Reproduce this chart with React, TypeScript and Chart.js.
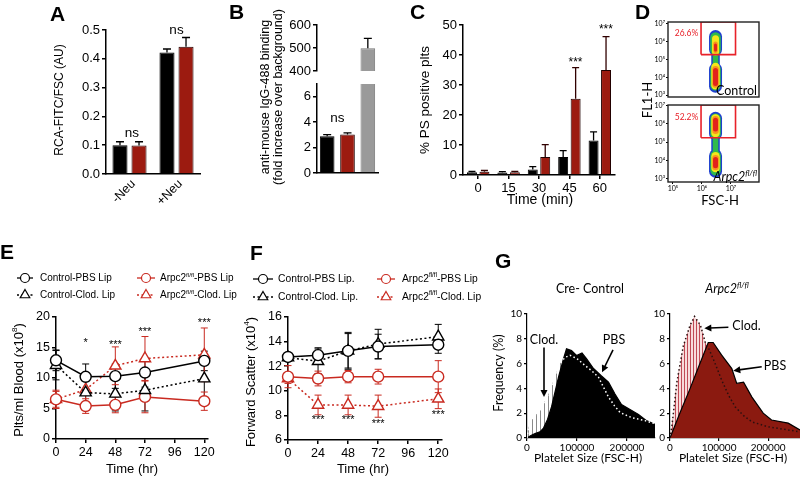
import React, { useEffect, useRef } from 'react';
import { Chart, registerables } from 'chart.js';

Chart.register(...registerables);

const W = 800;
const H = 477;
const ARIAL = "'Liberation Sans', Arial, Helvetica, sans-serif";
const CAL = "Lato, 'Open Sans', 'DejaVu Sans', sans-serif";
const BAR_RED = '#9c1b10';
const LINE_RED = '#c92a20';
const GRAY = '#9a9a9a';

// ---------------- Panel A ----------------
const aCategories = ['-Neu', '+Neu'];
const aControl = [0.1, 0.422];
const aControlErr = [0.012, 0.012];
const aArpc2 = [0.099, 0.442];
const aArpc2Err = [0.013, 0.032];
const aTicks = [0, 0.1, 0.2, 0.3, 0.4, 0.5];

// ---------------- Panel B ----------------
const bCategories = ['Control', 'Arpc2 fl/fl', 'Positive'];
const bValues = [2.9, 3.02, 499];
const bErr = [0.12, 0.13, 43];
const bLowTicks = [0, 2, 4, 6];
const bHighTicks = [400, 500, 600];

// ---------------- Panel C ----------------
const cCategories = ['0', '15', '30', '45', '60'];
const cControl = [0.9, 0.8, 1.8, 6.0, 11.5];
const cControlErr = [0.3, 0.3, 1.0, 2.1, 2.9];
const cArpc2 = [1.1, 0.9, 6.0, 25.4, 35.0];
const cArpc2Err = [0.4, 0.3, 4.1, 10.4, 11.1];
const cTicks = [0, 10, 20, 30, 40, 50];
const cStarCats = [3, 4];
const cStarY = [38.3, 49.4];

// ---------------- Panel D (log10 exponents) ----------------
const dYTicks = [3, 4, 5, 6, 7];
const dXTicks = [5, 6, 7];
const dBlobX = 6.47;
const dControlBlob: [string, number, number][] = [
  ['B', 3.5, 4.45], ['b', 4.45, 5.35], ['B', 5.55, 6.28],
  ['G', 3.55, 4.45], ['g', 4.6, 5.3], ['G', 5.52, 6.22],
  ['Y', 3.55, 4.58], ['y', 5.42, 6.15],
  ['O', 3.6, 4.45], ['o', 5.48, 5.88],
  ['R', 3.66, 4.38], ['r', 5.53, 5.8],
];
const dArpc2Blob: [string, number, number][] = [
  ['B', 3.4, 4.25], ['b', 4.4, 5.25], ['B', 5.46, 6.31],
  ['G', 3.46, 4.26], ['g', 4.55, 5.15], ['G', 5.46, 6.29],
  ['Y', 3.58, 4.22], ['Y', 5.5, 6.3],
  ['O', 3.64, 4.12], ['O', 5.62, 6.26],
  ['R', 3.7, 4.05], ['R', 5.72, 6.2],
];
const dGateX = [5.97, 7.16];
const dGateYControl = [5.27, 7.09];
const dGateYArpc2 = [5.24, 7.04];
const dGatePct = ['26.6%', '52.2%'];

// ---------------- Panel E ----------------
const timeHr = [0, 24, 48, 72, 120];
const timeTicks = [0, 24, 48, 72, 96, 120];
const eCtrlPbs = [12.9, 10.2, 10.3, 10.9, 12.8];
const eCtrlPbsErr = [1.7, 2.1, 2.0, 2.4, 1.6];
const eCtrlClod = [12.1, 7.6, 7.4, 8.0, 9.9];
const eCtrlClodErr = [2.4, 2.6, 2.8, 3.4, 3.8];
const eArpcPbs = [6.5, 5.4, 5.6, 6.9, 6.2];
const eArpcPbsErr = [1.3, 1.2, 1.3, 2.6, 1.5];
const eArpcClod = [6.5, 8.1, 12.0, 13.2, 13.8];
const eArpcClodErr = [1.5, 2.0, 3.1, 3.6, 4.4];
const eTicks = [0, 5, 10, 15, 20];
const eStarX = [24, 48, 72, 120];
const eStarY = [16.2, 15.9, 18.0, 19.5];
const eStarText = ['*', '***', '***', '***'];

// ---------------- Panel F ----------------
const fCtrlPbs = [12.75, 12.9, 13.25, 13.6, 13.75];
const fCtrlPbsErr = [0.3, 0.6, 1.4, 1.0, 0.7];
const fCtrlClod = [12.7, 12.4, 13.25, 13.8, 14.4];
const fCtrlClodErr = [0.3, 1.0, 1.5, 1.2, 1.0];
const fArpcPbs = [11.15, 11.0, 11.15, 11.15, 11.15];
const fArpcPbsErr = [0.9, 0.6, 0.5, 0.6, 1.3];
const fArpcClod = [11.0, 8.85, 8.85, 8.75, 9.35];
const fArpcClodErr = [0.4, 0.8, 0.8, 0.9, 0.8];
const fTicks = [6, 8, 10, 12, 14, 16];
const fStarX = [24, 48, 72, 120];
const fStarY = [7.85, 7.85, 7.5, 8.25];

// ---------------- Panel G ----------------
const gTicksY = [0, 2, 4, 6, 8, 10];
const gTicksX = [0, 100000, 200000];
const gCtrlPbsX = [0, 8000, 16000, 26000, 33000, 41000, 49000, 56000, 63000, 73000, 79000, 89000, 99000, 110000, 119000, 133000, 149000, 163000, 176000, 189000, 206000, 223000, 239000, 256000];
const gCtrlPbsY = [0, 0.2, 0.35, 0.5, 0.8, 1.5, 2.5, 3.7, 4.9, 6.4, 7.2, 7.05, 6.65, 6.85, 6.4, 5.6, 5.0, 4.5, 3.55, 2.7, 2.3, 1.9, 1.4, 1.1];
const gCtrlClodX = [0, 3000, 7000, 16000, 26000, 36000, 46000, 56000, 66000, 76000, 86000, 100000, 116000, 130000, 143000, 153000, 163000, 175000, 186000, 209000, 236000, 256000];
const gCtrlClodY = [0, 0.8, 1.4, 1.8, 2.2, 3.0, 3.8, 5.0, 6.0, 6.5, 6.67, 6.4, 5.85, 5.4, 4.9, 4.1, 3.3, 2.6, 2.06, 1.65, 1.4, 1.15];
const gArpcPbsX = [0, 20000, 40000, 60000, 78000, 88000, 105000, 126000, 136000, 150000, 167000, 190000, 207000, 241000, 265000];
const gArpcPbsY = [0, 2.0, 3.9, 5.9, 7.7, 7.7, 6.7, 5.6, 4.4, 4.5, 3.3, 2.0, 1.45, 1.2, 0.65];
const gArpcClodX = [0, 4000, 14000, 27000, 41000, 50000, 62000, 72000, 78000, 90000, 105000, 120000, 133000, 150000, 167000, 200000, 265000];
const gArpcClodY = [0, 1.0, 4.5, 7.4, 9.1, 9.8, 9.1, 7.7, 7.3, 6.2, 4.7, 3.4, 2.5, 1.8, 1.3, 0.9, 0.5];

// ---------------- helpers ----------------
const LEVELS: Record<string, { c: string; w: number; o: number }> = {
  B: { c: '#1d3fcf', w: 13, o: 10 },
  b: { c: '#1d3fcf', w: 8.5, o: 10 },
  G: { c: '#2fba4c', w: 10.5, o: 9 },
  g: { c: '#2fba4c', w: 5.5, o: 9 },
  Y: { c: '#f3e61b', w: 8.5, o: 8 },
  y: { c: '#f3e61b', w: 7, o: 8 },
  O: { c: '#f7931e', w: 6.5, o: 7 },
  o: { c: '#f7931e', w: 4.5, o: 7 },
  R: { c: '#e2231a', w: 5, o: 6 },
  r: { c: '#e2231a', w: 3, o: 6 },
};
const SUP: Record<number, string> = { 3: '³', 4: '⁴', 5: '⁵', 6: '⁶', 7: '⁷' };
const logLabel = (v: number) => '10' + (SUP[Math.round(Math.log10(v))] || '');
const pts = (xs: number[], ys: number[]) => xs.map((x, i) => ({ x, y: ys[i] }));

function rich(ctx: CanvasRenderingContext2D, text: string, x: number, y: number, o: any) {
  const size = o.size || 12;
  const fam = o.family || ARIAL;
  const parts: any[] = [];
  const re = /\^\{([^}]*)\}/g;
  let last = 0;
  let m: RegExpExecArray | null;
  while ((m = re.exec(text))) {
    if (m.index > last) parts.push({ t: text.slice(last, m.index), sup: false });
    parts.push({ t: m[1], sup: true });
    last = re.lastIndex;
  }
  if (last < text.length) parts.push({ t: text.slice(last), sup: false });
  const font = (sup: boolean) => `${o.style || 'normal'} ${o.weight || 'normal'} ${sup ? size * 0.62 : size}px ${fam}`;
  ctx.save();
  ctx.translate(x, y);
  if (o.rot) ctx.rotate(o.rot);
  let total = 0;
  for (const p of parts) {
    ctx.font = font(p.sup);
    p.w = ctx.measureText(p.t).width;
    total += p.w;
  }
  let cx = o.align === 'left' ? 0 : o.align === 'right' ? -total : -total / 2;
  ctx.textAlign = 'left';
  ctx.textBaseline = 'middle';
  ctx.fillStyle = o.color || '#000';
  for (const p of parts) {
    ctx.font = font(p.sup);
    ctx.fillText(p.t, cx, p.sup ? -size * 0.32 : 0);
    cx += p.w;
  }
  ctx.restore();
}

function drawErrors(chart: any, layer: string) {
  const ctx = chart.ctx;
  chart.data.datasets.forEach((ds: any, i: number) => {
    if (!ds.errors || (ds.errLayer || 'after') !== layer) return;
    const meta = chart.getDatasetMeta(i);
    const ys = chart.scales[meta.yAxisID];
    ctx.save();
    ctx.strokeStyle = ds.errColor || '#000';
    ctx.lineWidth = ds.errWidth || 1.3;
    meta.data.forEach((el: any, j: number) => {
      const e = ds.errors[j];
      const raw = ds.data[j];
      const v = typeof raw === 'number' ? raw : raw && raw.y;
      if (e == null || v == null) return;
      if (v < ys.min || v > ys.max) return;
      const x = el.x;
      const yTop = ys.getPixelForValue(v + e);
      const yMid = ys.getPixelForValue(v);
      const both = ds.errMode === 'both';
      const yBot = both ? ys.getPixelForValue(v - e) : yMid;
      const c = ds.errCap || 3;
      ctx.beginPath();
      ctx.moveTo(x, yBot);
      ctx.lineTo(x, yTop);
      ctx.moveTo(x - c, yTop);
      ctx.lineTo(x + c, yTop);
      if (both) {
        ctx.moveTo(x - c, yBot);
        ctx.lineTo(x + c, yBot);
      }
      ctx.stroke();
    });
    ctx.restore();
  });
}

function drawMarker(ctx: CanvasRenderingContext2D, style: string, x: number, y: number, r: number, color: string) {
  ctx.beginPath();
  if (style === 'triangle') {
    ctx.moveTo(x, y - r);
    ctx.lineTo(x + r * 0.866, y + r * 0.5);
    ctx.lineTo(x - r * 0.866, y + r * 0.5);
    ctx.closePath();
  } else {
    ctx.arc(x, y, r, 0, Math.PI * 2);
  }
  ctx.fillStyle = '#fff';
  ctx.fill();
  ctx.setLineDash([]);
  ctx.strokeStyle = color;
  ctx.lineWidth = 1.2;
  ctx.stroke();
}

function makeDeco(d: any) {
  return {
    id: 'deco',
    beforeDatasetsDraw(chart: any) {
      drawErrors(chart, 'before');
    },
    afterDatasetsDraw(chart: any) {
      drawErrors(chart, 'after');
    },
    afterDraw(chart: any) {
      const ctx = chart.ctx;
      const a = chart.chartArea;
      if (d.frame) {
        ctx.save();
        ctx.strokeStyle = '#222';
        ctx.lineWidth = 1.4;
        ctx.strokeRect(a.left, a.top, a.right - a.left, a.bottom - a.top);
        ctx.restore();
      }
      (d.arrows || []).forEach((ar: any) => {
        const xs = chart.scales.x;
        const ys = chart.scales.y;
        const x1 = xs.getPixelForValue(ar.x1);
        const y1 = ys.getPixelForValue(ar.y1);
        const x2 = xs.getPixelForValue(ar.x2);
        const y2 = ys.getPixelForValue(ar.y2);
        const ang = Math.atan2(y2 - y1, x2 - x1);
        const hl = 7;
        const hw = 3.5;
        ctx.save();
        ctx.strokeStyle = '#000';
        ctx.fillStyle = '#000';
        ctx.lineWidth = 1.6;
        ctx.beginPath();
        ctx.moveTo(x1, y1);
        ctx.lineTo(x2 - Math.cos(ang) * hl * 0.8, y2 - Math.sin(ang) * hl * 0.8);
        ctx.stroke();
        ctx.beginPath();
        ctx.moveTo(x2, y2);
        ctx.lineTo(x2 - Math.cos(ang) * hl - Math.sin(ang) * hw, y2 - Math.sin(ang) * hl + Math.cos(ang) * hw);
        ctx.lineTo(x2 - Math.cos(ang) * hl + Math.sin(ang) * hw, y2 - Math.sin(ang) * hl - Math.cos(ang) * hw);
        ctx.closePath();
        ctx.fill();
        ctx.restore();
      });
      (d.texts || []).forEach((t: any) => {
        let x = t.x;
        let y = t.y;
        if (t.data || t.xData) x = chart.scales.x.getPixelForValue(t.x);
        if (t.data) y = chart.scales.y.getPixelForValue(t.y);
        rich(ctx, t.t, x + (t.dx || 0), y + (t.dy || 0), t);
      });
      (d.legend || []).forEach((it: any) => {
        const ds = chart.data.datasets[it.ds];
        ctx.save();
        ctx.strokeStyle = ds.borderColor;
        ctx.lineWidth = 1.3;
        ctx.setLineDash(ds.borderDash || []);
        ctx.beginPath();
        ctx.moveTo(it.x - it.half, it.y);
        ctx.lineTo(it.x + it.half, it.y);
        ctx.stroke();
        drawMarker(ctx, ds.pointStyle, it.x, it.y, ds.pointStyle === 'triangle' ? 5.5 : 4.5, ds.borderColor);
        ctx.restore();
        rich(ctx, ds.label, it.tx, it.y, { size: d.legendSize || 10, align: 'left' });
      });
    },
  };
}

const base = (T: number, R: number, Bpad?: number) => ({
  responsive: false,
  animation: false,
  events: [],
  layout: { padding: { left: 0, top: T, right: W - R, bottom: Bpad == null ? 0 : H - Bpad } },
  plugins: { legend: { display: false }, tooltip: { enabled: false }, title: { display: false } },
});

function yAxis(L: number, min: number, max: number, ticks: number[], o: any = {}) {
  return {
    type: o.type || 'linear',
    position: 'left',
    min,
    max,
    afterFit: (s: any) => {
      s.width = L;
      s.paddingTop = 0;
      s.paddingBottom = 0;
    },
    afterBuildTicks: (s: any) => {
      s.ticks = ticks.map((v) => ({ value: v }));
    },
    ticks: {
      font: o.font || { size: 12.5, family: ARIAL },
      color: '#000',
      padding: o.pad ?? 2,
      callback: (v: any) => (o.fmt ? o.fmt(v) : String(v)),
    },
    grid: { display: true, drawOnChartArea: false, drawTicks: true, tickLength: o.tl ?? 4, color: '#000', lineWidth: o.lw ?? 1.5 },
    border: { display: o.border ?? true, color: '#000', width: o.lw ?? 1.5 },
  };
}

function xAxis(B: number, o: any = {}) {
  const ax: any = {
    type: o.type || 'linear',
    position: 'bottom',
    afterFit: (s: any) => {
      s.height = H - B;
      s.paddingLeft = 0;
      s.paddingRight = 0;
    },
    ticks: {
      display: o.showTicks ?? true,
      font: o.font || { size: 12.5, family: ARIAL },
      color: '#000',
      padding: o.pad ?? 2,
      maxRotation: 0,
    },
    grid: o.noGrid
      ? { display: false }
      : { display: true, drawOnChartArea: false, drawTicks: true, offset: false, tickLength: o.tl ?? 4, color: '#000', lineWidth: o.lw ?? 1.5 },
    border: { display: o.border ?? true, color: '#000', width: o.lw ?? 1.5 },
  };
  if (o.min != null) ax.min = o.min;
  if (o.max != null) ax.max = o.max;
  if (o.ticks) {
    ax.afterBuildTicks = (s: any) => {
      s.ticks = o.ticks.map((v: number) => ({ value: v }));
    };
  }
  if (o.fmt) ax.ticks.callback = (v: any) => o.fmt(v);
  if (o.type === 'category') ax.offset = true;
  return ax;
}

function stripe(bg: string, fg: string, period: number) {
  const c = document.createElement('canvas');
  c.width = period;
  c.height = 4;
  const g = c.getContext('2d')!;
  g.fillStyle = bg;
  g.fillRect(0, 0, period, 4);
  g.fillStyle = fg;
  g.fillRect(0, 0, 1, 4);
  return g.createPattern(c, 'repeat');
}

const letter = (t: string, x: number, y: number) => ({ t, x, y, size: 21, weight: 'bold', align: 'left', family: ARIAL });
const ROT = -Math.PI / 2;

function buildConfigs(): any[] {
  const cfgs: any[] = [];

  // ---- A ----
  cfgs.push({
    type: 'bar',
    data: {
      labels: aCategories,
      datasets: [
        { label: 'Control', data: aControl, backgroundColor: '#000', borderColor: '#000', borderWidth: 1, categoryPercentage: 0.81, barPercentage: 0.79, errors: aControlErr, errCap: 4 },
        { label: 'Arpc2', data: aArpc2, backgroundColor: BAR_RED, borderColor: '#200000', borderWidth: 1, categoryPercentage: 0.81, barPercentage: 0.79, errors: aArpc2Err, errCap: 4 },
      ],
    },
    options: {
      ...base(30, 200),
      scales: {
        x: xAxis(174, { type: 'category', noGrid: true, showTicks: false }),
        y: yAxis(106, 0, 0.5, aTicks, { font: { size: 13, family: ARIAL }, fmt: (v: number) => v.toFixed(1) }),
      },
    },
    plugins: [
      makeDeco({
        texts: [
          letter('A', 50, 15),
          { t: 'RCA-FITC/FSC (AU)', x: 60, y: 100, size: 12, rot: ROT },
          { t: 'ns', x: 0.05, y: 0.142, size: 13.5, data: true },
          { t: 'ns', x: 1.0, y: 0.498, size: 13.5, data: true },
          ...aCategories.map((c, i) => ({ t: c, x: i, xData: true, dx: 4, y: 182, size: 12.5, rot: -Math.PI / 4, align: 'right' })),
        ],
      }),
    ],
  });

  // ---- B (lower segment) ----
  cfgs.push({
    type: 'bar',
    data: {
      labels: bCategories,
      datasets: [
        {
          label: 'binding',
          data: bValues,
          backgroundColor: ['#000', BAR_RED, GRAY],
          borderColor: ['#000', '#200000', '#777'],
          borderWidth: 1,
          categoryPercentage: 1,
          barPercentage: 0.72,
          errors: bErr.map((e, i) => (bValues[i] <= 7 ? e : null)),
          errCap: 4,
        },
      ],
    },
    options: {
      ...base(84, 378),
      scales: {
        x: xAxis(173, { type: 'category', noGrid: true, showTicks: false }),
        y: yAxis(317, 0, 7, bLowTicks, { font: { size: 13, family: ARIAL } }),
      },
    },
    plugins: [
      makeDeco({
        texts: [
          letter('B', 229, 13),
          { t: 'anti-mouse IgG-488 binding', x: 266, y: 97, size: 12.5, rot: ROT },
          { t: '(fold increase over background)', x: 279, y: 97, size: 12.5, rot: ROT },
          { t: 'ns', x: 0.5, y: 4.3, size: 13.5, data: true },
        ],
      }),
    ],
  });

  // ---- B (upper segment) ----
  cfgs.push({
    type: 'bar',
    data: {
      labels: bCategories,
      datasets: [
        {
          label: 'binding',
          data: bValues.map((v) => (v >= 400 ? v : null)),
          backgroundColor: ['#000', BAR_RED, GRAY],
          borderColor: ['#000', '#200000', '#777'],
          borderWidth: 1,
          categoryPercentage: 1,
          barPercentage: 0.72,
          errors: bErr.map((e, i) => (bValues[i] >= 400 ? e : null)),
          errCap: 4,
        },
      ],
    },
    options: {
      ...base(25, 378, 71),
      scales: {
        x: { type: 'category', display: false, offset: true },
        y: yAxis(317, 400, 600, bHighTicks, { font: { size: 13, family: ARIAL } }),
      },
    },
    plugins: [makeDeco({})],
  });

  // ---- C ----
  cfgs.push({
    type: 'bar',
    data: {
      labels: cCategories,
      datasets: [
        { label: 'Control', data: cControl, backgroundColor: '#000', borderColor: '#000', borderWidth: 1, categoryPercentage: 0.82, barPercentage: 0.8, errors: cControlErr, errCap: 3.5 },
        { label: 'Arpc2', data: cArpc2, backgroundColor: BAR_RED, borderColor: '#200000', borderWidth: 1, categoryPercentage: 0.82, barPercentage: 0.8, errors: cArpc2Err, errCap: 3.5, errColor: '#300000' },
      ],
    },
    options: {
      ...base(25, 615),
      scales: {
        x: xAxis(175, { type: 'category', font: { size: 13, family: ARIAL }, pad: 2 }),
        y: yAxis(463, 0, 50, cTicks, { font: { size: 13, family: ARIAL } }),
      },
    },
    plugins: [
      makeDeco({
        texts: [
          letter('C', 410, 13),
          { t: '% PS positive plts', x: 425, y: 100, size: 13.5, rot: ROT },
          { t: 'Time (min)', x: 540, y: 200, size: 14 },
          ...cStarCats.map((c, i) => ({ t: '***', x: c + 0.2, y: cStarY[i], size: 12, data: true, dy: 3 })),
        ],
      }),
    ],
  });

  // ---- D ----
  const dCfg = (blob: [string, number, number][], gateY: number[], T: number, B: number, yMinE: number, yMaxE: number, showX: boolean, pct: string, pctYE: number, extraTexts: any[]) => {
    const datasets: any[] = [];
    const g = [
      [dGateX[0], gateY[0]], [dGateX[1], gateY[0]], [dGateX[1], gateY[1]], [dGateX[0], gateY[1]], [dGateX[0], gateY[0]],
    ];
    datasets.push({ label: 'gate', data: g.map(([a, b]) => ({ x: 10 ** a, y: 10 ** b })), borderColor: '#e8222a', borderWidth: 1.6, pointRadius: 0, fill: false, order: 0 });
    blob.forEach(([lv, lo, hi]) => {
      const st = LEVELS[lv];
      datasets.push({
        label: 'density',
        data: [{ x: 10 ** dBlobX, y: 10 ** lo }, { x: 10 ** dBlobX, y: 10 ** hi }],
        borderColor: st.c,
        borderWidth: st.w,
        borderCapStyle: 'round',
        pointRadius: 0,
        fill: false,
        order: st.o,
      });
    });
    const xMin = 10 ** 4.83;
    const xMax = 10 ** 7.97;
    const tickFont = { size: 7, family: CAL };
    return {
      type: 'line',
      data: { datasets },
      options: {
        ...base(T, 759, showX ? undefined : B),
        scales: {
          x: showX
            ? xAxis(B, { type: 'logarithmic', min: xMin, max: xMax, ticks: dXTicks.map((e) => 10 ** e), fmt: logLabel, font: tickFont, tl: 2, lw: 1, border: false, pad: 1 })
            : { type: 'logarithmic', display: false, min: xMin, max: xMax },
          y: yAxis(668, 10 ** yMinE, 10 ** yMaxE, dYTicks.map((e) => 10 ** e), { type: 'logarithmic', fmt: logLabel, font: tickFont, tl: 2, lw: 1, border: false, pad: 1 }),
        },
      },
      plugins: [
        makeDeco({
          frame: true,
          texts: [{ t: pct, x: 10 ** 5.47, y: 10 ** pctYE, size: 8.5, family: CAL, color: '#e8222a', data: true }, ...extraTexts],
        }),
      ],
    };
  };
  cfgs.push(dCfg(dControlBlob, dGateYControl, 22, 97, 2.9, 7.09, false, dGatePct[0], 6.46, [
    letter('D', 635, 13),
    { t: 'Control', x: 757, y: 91, size: 12.5, family: CAL, align: 'right' },
  ]));
  cfgs.push(dCfg(dArpc2Blob, dGateYArpc2, 105, 182, 2.81, 7.04, true, dGatePct[1], 6.35, [
    { t: 'Arpc2^{fl/fl}', x: 757, y: 177, size: 12.5, family: CAL, style: 'italic', align: 'right' },
    { t: 'FL1-H', x: 648, y: 100, size: 13, family: CAL, rot: ROT },
    { t: 'FSC-H', x: 720, y: 201, size: 13, family: CAL },
  ]));

  // ---- E & F ----
  const seriesDs = (label: string, ys: number[], errs: number[], color: string, dashed: boolean, marker: string) => ({
    label,
    data: pts(timeHr, ys),
    borderColor: color,
    borderWidth: 1.5,
    borderDash: dashed ? [2, 2.5] : [],
    pointStyle: marker,
    pointRadius: marker === 'triangle' ? 6.5 : 5.5,
    pointBackgroundColor: '#fff',
    pointBorderColor: color,
    pointBorderWidth: 1.4,
    fill: false,
    clip: false,
    errors: errs,
    errMode: 'both',
    errLayer: 'before',
    errCap: 3.5,
    errColor: color,
    errWidth: 1,
  });

  cfgs.push({
    type: 'line',
    data: {
      datasets: [
        seriesDs('Control-PBS Lip', eCtrlPbs, eCtrlPbsErr, '#000', false, 'circle'),
        seriesDs('Control-Clod. Lip', eCtrlClod, eCtrlClodErr, '#000', true, 'triangle'),
        seriesDs('Arpc2^{fl/fl}-PBS Lip', eArpcPbs, eArpcPbsErr, LINE_RED, false, 'circle'),
        seriesDs('Arpc2^{fl/fl}-Clod. Lip', eArpcClod, eArpcClodErr, LINE_RED, true, 'triangle'),
      ],
    },
    options: {
      ...base(317, 208),
      scales: {
        x: xAxis(439, { min: 0, max: 123, ticks: timeTicks }),
        y: yAxis(56, 0, 20, eTicks, {}),
      },
    },
    plugins: [
      makeDeco({
        legendSize: 10,
        legend: [
          { ds: 0, x: 25, y: 278, tx: 40, half: 8 },
          { ds: 1, x: 25, y: 295, tx: 40, half: 8 },
          { ds: 2, x: 146, y: 278, tx: 160, half: 9 },
          { ds: 3, x: 146, y: 295, tx: 160, half: 9 },
        ],
        texts: [
          letter('E', 0, 253),
          { t: 'Plts/ml Blood (x10^{8})', x: 19, y: 380, size: 13, rot: ROT },
          { t: 'Time (hr)', x: 132, y: 469, size: 13 },
          ...eStarX.map((x, i) => ({ t: eStarText[i], x, y: eStarY[i], size: 11, data: true, dy: 2.5 })),
        ],
      }),
    ],
  });

  cfgs.push({
    type: 'line',
    data: {
      datasets: [
        seriesDs('Control-PBS Lip.', fCtrlPbs, fCtrlPbsErr, '#000', false, 'circle'),
        seriesDs('Control-Clod. Lip.', fCtrlClod, fCtrlClodErr, '#000', true, 'triangle'),
        seriesDs('Arpc2^{fl/fl}-PBS Lip', fArpcPbs, fArpcPbsErr, LINE_RED, false, 'circle'),
        seriesDs('Arpc2^{fl/fl}-Clod. Lip', fArpcClod, fArpcClodErr, LINE_RED, true, 'triangle'),
      ],
    },
    options: {
      ...base(317, 442),
      scales: {
        x: xAxis(440, { min: 0, max: 123, ticks: timeTicks }),
        y: yAxis(288, 6, 16, fTicks, {}),
      },
    },
    plugins: [
      makeDeco({
        legendSize: 10.3,
        legend: [
          { ds: 0, x: 263, y: 279, tx: 278, half: 10 },
          { ds: 1, x: 263, y: 297, tx: 278, half: 10 },
          { ds: 2, x: 386, y: 279, tx: 402, half: 9 },
          { ds: 3, x: 386, y: 297, tx: 402, half: 9 },
        ],
        texts: [
          letter('F', 250, 254),
          { t: 'Forward Scatter (x10^{4})', x: 251, y: 382, size: 13, rot: ROT },
          { t: 'Time (hr)', x: 363, y: 469, size: 13 },
          ...fStarX.map((x, i) => ({ t: '***', x, y: fStarY[i], size: 11, data: true, dy: 2.5 })),
        ],
      }),
    ],
  });

  // ---- G ----
  const grayHatch = stripe('#ffffff', '#8a8a8a', 4);
  const pinkHatch = stripe('#f8dcdc', '#c04a55', 3);
  const gFont = { size: 10, family: CAL };
  const gCfg = (L: number, R: number, xMax: number, pbs: any[], clod: any[], pbsFill: string, clodFill: any, clodLine: string, deco: any) => ({
    type: 'line',
    data: {
      datasets: [
        { label: 'Clod. outline', data: clod, borderColor: clodLine, borderWidth: 1.5, borderDash: [1.5, 2.5], pointRadius: 0, fill: false, order: 1 },
        { label: 'PBS', data: pbs, borderColor: '#000', borderWidth: 1.2, backgroundColor: pbsFill, pointRadius: 0, fill: 'origin', order: 2 },
        { label: 'Clod.', data: clod, borderWidth: 0, borderColor: 'rgba(0,0,0,0)', backgroundColor: clodFill, pointRadius: 0, fill: 'origin', order: 3 },
      ],
    },
    options: {
      ...base(314, R),
      scales: {
        x: xAxis(438, { min: 0, max: xMax, ticks: gTicksX, font: gFont, tl: 3, lw: 1.2, pad: 1, fmt: (v: number) => String(v) }),
        y: yAxis(L, 0, 10, gTicksY, { font: gFont, tl: 3, lw: 1.2, pad: 2 }),
      },
    },
    plugins: [makeDeco(deco)],
  });

  cfgs.push(gCfg(527, 655, 256000, pts(gCtrlPbsX, gCtrlPbsY), pts(gCtrlClodX, gCtrlClodY), '#000', grayHatch, '#ffffff', {
    arrows: [
      { x1: 34000, y1: 7.3, x2: 34000, y2: 3.3 },
      { x1: 172000, y1: 7.1, x2: 150000, y2: 5.3 },
    ],
    texts: [
      letter('G', 495, 262),
      { t: 'Frequency (%)', x: 499, y: 373, size: 12.5, family: CAL, rot: ROT },
      { t: 'Cre- Control', x: 590, y: 289, size: 12.5, family: CAL },
      { t: 'Platelet Size (FSC-H)', x: 588, y: 458, size: 12, family: CAL },
      { t: 'Clod.', x: 34000, y: 7.9, size: 12.5, family: CAL, data: true },
      { t: 'PBS', x: 174000, y: 7.9, size: 12.5, family: CAL, data: true },
    ],
  }));

  cfgs.push(gCfg(670, 800, 265000, pts(gArpcPbsX, gArpcPbsY), pts(gArpcClodX, gArpcClodY), '#8b1a10', pinkHatch, '#2a1010', {
    arrows: [
      { x1: 119000, y1: 8.93, x2: 70000, y2: 8.85 },
      { x1: 187000, y1: 5.75, x2: 129000, y2: 5.43 },
    ],
    texts: [
      { t: 'Arpc2^{fl/fl}', x: 727, y: 289, size: 12.5, family: CAL, style: 'italic' },
      { t: 'Platelet Size (FSC-H)', x: 733, y: 458, size: 12, family: CAL },
      { t: 'Clod.', x: 156000, y: 9.0, size: 12.5, family: CAL, data: true },
      { t: 'PBS', x: 214000, y: 5.8, size: 12.5, family: CAL, data: true },
    ],
  }));

  return cfgs;
}

const N_CHARTS = 11;

export default function App() {
  const refs = useRef<(HTMLCanvasElement | null)[]>([]);
  useEffect(() => {
    Chart.defaults.font.family = ARIAL;
    const cfgs = buildConfigs();
    const charts = cfgs.map((cfg, i) => new Chart(refs.current[i] as HTMLCanvasElement, cfg));
    return () => {
      charts.forEach((c) => c.destroy());
    };
  }, []);
  return (
    <div style={{ position: 'fixed', left: 0, top: 0, width: W, height: H, background: '#fff', overflow: 'hidden' }}>
      {Array.from({ length: N_CHARTS }).map((_, i) => (
        <canvas
          key={i}
          ref={(el) => {
            refs.current[i] = el;
          }}
          width={W}
          height={H}
          style={{ position: 'absolute', left: 0, top: 0, width: W, height: H }}
        />
      ))}
    </div>
  );
}
